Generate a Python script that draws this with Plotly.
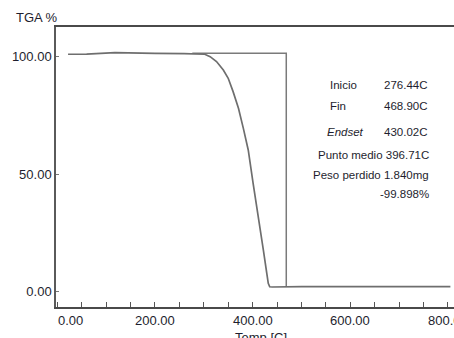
import plotly.graph_objects as go

# TGA curve: temperature (°C) vs remaining mass (%)
temp = [22, 60, 118, 160, 200, 260, 295, 302, 313, 326, 340, 350, 360, 371,
        381, 391, 401, 412, 422, 429, 432, 435, 440, 500, 600, 700, 805]
mass = [101.0, 101.1, 101.7, 101.4, 101.4, 101.3, 101.2, 101.0, 100.0, 97.9,
        94.3, 90.8, 85.1, 78.0, 69.5, 60.3, 46.1, 31.9, 17.7, 7.8, 3.6, 2.1,
        2.0, 2.2, 2.1, 2.3, 2.2]

# Step construction between onset (Inicio) and end (Fin)
onset_temp = 276.44
end_temp = 468.90
step_top = 101.4
step_bottom = 2.1

# Analysis results block
result_labels = ["Inicio", "Fin", "Endset"]
result_values = ["276.44C", "468.90C", "430.02C"]
summary_lines = ["Punto medio 396.71C", "Peso perdido 1.840mg", "-99.898%"]

x_ticks = [0, 200, 400, 600, 800]
x_tick_text = ["0.00", "200.00", "400.00", "600.00", "800.00"]
y_ticks = [0, 50, 100]
y_tick_text = ["0.00", "50.00", "100.00"]

W, H = 454, 338
ML, MR, MT, MB = 56, 0, 27, 31
PW, PH = W - ML - MR, H - MT - MB

def px_x(p):
    return (p - ML) / PW

def px_y(p):
    return (H - MB - p) / PH

fig = go.Figure()

fig.add_trace(go.Scatter(
    x=[onset_temp, end_temp, end_temp],
    y=[step_top, step_top, step_bottom],
    mode="lines", line=dict(color="#7a7a7a", width=1.5),
    hoverinfo="skip", showlegend=False,
))
fig.add_trace(go.Scatter(
    x=temp, y=mass, mode="lines",
    line=dict(color="#6e6e6e", width=1.7),
    showlegend=False,
))

font_main = "Liberation Sans, Arial, sans-serif"
txt_color = "#1e1e2e"

fig.update_layout(
    width=W, height=H,
    margin=dict(l=ML, r=MR, t=MT, b=MB),
    paper_bgcolor="white", plot_bgcolor="white",
    font=dict(family=font_main, size=13, color=txt_color),
    xaxis=dict(
        range=[-2.7, 812.4], showgrid=False, zeroline=False,
        showline=True, linecolor="#4a4a4a", linewidth=2, mirror=True,
        tickvals=x_ticks, ticks="inside", ticklen=5, tickcolor="#555",
        showticklabels=False,
        minor=dict(dtick=50, tick0=0, ticks="inside", ticklen=5, tickcolor="#555"),
    ),
    yaxis=dict(
        range=[-6.5, 112.6], showgrid=False, zeroline=False,
        showline=True, linecolor="#5a5a5a", linewidth=1.5,
        tickvals=y_ticks, ticktext=y_tick_text,
        ticks="inside", ticklen=3, tickcolor="#777",
        tickfont=dict(size=13, color=txt_color),
    ),
)

# x tick labels (first one is nudged clear of the y axis)
for v, t in zip(x_ticks, x_tick_text):
    fig.add_annotation(
        x=v, xref="x", y=px_y(320), yref="paper", text=t, showarrow=False,
        xshift=13 if v == 0 else 0, yanchor="middle",
        font=dict(size=13, color=txt_color),
    )

fig.add_annotation(x=px_x(261), xref="paper", y=px_y(337), yref="paper",
                   text="Temp [C]", showarrow=False, yanchor="middle",
                   font=dict(size=13, color=txt_color))
fig.add_annotation(x=px_x(14), xref="paper", y=px_y(18), yref="paper",
                   text="TGA %", showarrow=False, xanchor="left", yanchor="middle",
                   font=dict(size=13, color=txt_color))

label_rows = [(328, 85), (328, 105.5), (325, 131.5)]
for (lx, ly), lab, val in zip(label_rows, result_labels, result_values):
    text = "<i>%s</i>" % lab if lab == "Endset" else lab
    fig.add_annotation(x=px_x(lx), xref="paper", y=px_y(ly), yref="paper",
                       text=text, showarrow=False, xanchor="left", yanchor="middle",
                       font=dict(size=11.5, color=txt_color))
    fig.add_annotation(x=px_x(382), xref="paper", y=px_y(ly), yref="paper",
                       text=val, showarrow=False, xanchor="left", yanchor="middle",
                       font=dict(size=11.5, color=txt_color))

for line, ly in zip(summary_lines, [155, 175, 194]):
    fig.add_annotation(x=px_x(431), xref="paper", y=px_y(ly), yref="paper",
                       text=line, showarrow=False, xanchor="right", yanchor="middle",
                       font=dict(size=11.5, color=txt_color))

fig.write_html("out.html")
